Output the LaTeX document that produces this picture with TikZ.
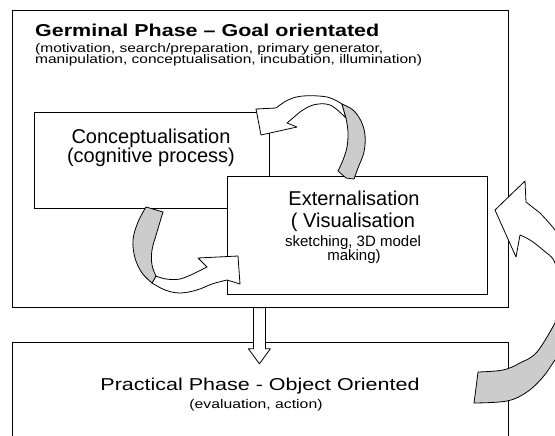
\documentclass[tikz,border=0pt]{standalone}
\usepackage{fontspec}
\setmainfont{Liberation Sans}
\newfontfamily\widesans[FakeStretch=1.25]{Liberation Sans}

\tikzset{
  phasebox/.style={draw, fill=white, line width=0.8pt, inner sep=0pt, anchor=north west},
  txt/.style={inner sep=0pt, anchor=base},
  ribbon/.style={draw, fill=white, line width=0.8pt, line join=round},
  ribbonback/.style={ribbon, fill=black!20},
}

\begin{document}
\begin{tikzpicture}[x=1pt, y=-1pt]
  \useasboundingbox (0,0) rectangle (555,436);

  % the two phases
  \node[phasebox, minimum width=496pt, minimum height=297pt] (germinal) at (12,10) {};
  \node[phasebox, minimum width=496pt, minimum height=110pt] (practical) at (12,342) {};
  % the loop inside the germinal phase
  \node[phasebox, minimum width=235pt, minimum height=96pt] (concept) at (34,112) {};
  \node[phasebox, minimum width=260pt, minimum height=118pt] (extern) at (227,176) {};

  \node[txt, anchor=base west, font=\widesans\bfseries\fontsize{17.2}{20}\selectfont]
    (gtitle) at (35,37) {Germinal Phase – Goal orientated};
  \node[txt, anchor=base west, font=\widesans\fontsize{12.4}{14}\selectfont]
    (gsub1) at (35,52.4) {(motivation, search/preparation, primary generator,};
  \node[txt, anchor=base west, font=\widesans\fontsize{12.4}{14}\selectfont]
    (gsub2) at (35,64) {manipulation, conceptualisation, incubation, illumination)};

  \node[txt, font=\fontsize{20}{24}\selectfont] (ctext1) at (151,143) {Conceptualisation};
  \node[txt, font=\fontsize{20}{24}\selectfont] (ctext2) at (151,163) {(cognitive process)};

  \node[txt, font=\fontsize{20}{24}\selectfont] (etext1) at (354,205) {Externalisation};
  \node[txt, font=\fontsize{20}{24}\selectfont] (etext2) at (353,227) {( Visualisation};
  \node[txt, font=\fontsize{15}{18}\selectfont] (etext3) at (353,246) {sketching, 3D model};
  \node[txt, font=\fontsize{15}{18}\selectfont] (etext4) at (354,260) {making)};

  \node[txt, font=\widesans\fontsize{17.2}{20}\selectfont] (ptext1) at (260,390) {Practical Phase - Object Oriented};
  \node[txt, font=\widesans\fontsize{12.6}{15}\selectfont] (ptext2) at (256,408) {(evaluation, action)};

  % germinal -> practical
  \draw[ribbon, shift={(germinal.south)}]
    (-7,0) -- (-7,41) -- (-12,41) -- (-1,56) -- (10,41) -- (5,41) -- (5,0) -- cycle;

  % externalisation -> conceptualisation
  \draw[ribbon] plot[smooth, tension=0.6] coordinates {(342,104) (327,97) (303,96) (288,100) (276,108)}
    -- (256,109) -- (261,135) -- (297,127) -- (287,123)
    -- plot[smooth, tension=0.6] coordinates {(300,112) (313,105) (330,105) (346,118)} -- cycle;
  \draw[ribbonback] plot[smooth, tension=0.6] coordinates {(342,104) (353,110) (361,121) (365,135) (364,152) (358,168) (354,179)}
    -- (346,178) -- plot[smooth, tension=0.6] coordinates {(338,171) (343,160) (347,147) (348,132) (346,118)} -- cycle;

  % conceptualisation -> externalisation
  \draw[ribbon] plot[smooth, tension=0.6] coordinates {(152,283) (165,290) (180,293) (197,290) (212,284) (227,280)}
    -- (240,284) -- (238,256) -- (198,258) -- (207,267)
    -- plot[smooth, tension=0.6] coordinates {(195,273) (180,279) (166,279) (156,276)} -- cycle;
  \draw[ribbonback] (146,207) -- plot[smooth, tension=0.6] coordinates {(163,212) (157,232) (152,250) (152,265) (156,276)}
    -- plot[smooth, tension=0.6] coordinates {(152,283) (142,273) (135,258) (133,240) (138,222) (146,207)} -- cycle;

  % practical -> externalisation
  \draw[ribbon] plot[smooth, tension=0.6] coordinates {(555,323) (558,293) (555,263) (543,250) (530,240) (520,235)}
    -- (516,257) -- (495,210) -- (525,181) -- (526,202)
    -- plot[smooth, tension=0.6] coordinates {(540,213) (555,230) (572,255) (582,290) (578,322)} -- cycle;
  \draw[ribbonback] plot[smooth, tension=0.6] coordinates {(555,323) (537,352) (520,363) (503,370) (478,372)}
    -- (476,388) -- plot[smooth, tension=0.6] coordinates {(474,403) (507,401) (527,392) (543,377) (555,360) (570,340) (578,322)} -- cycle;
\end{tikzpicture}
\end{document}
